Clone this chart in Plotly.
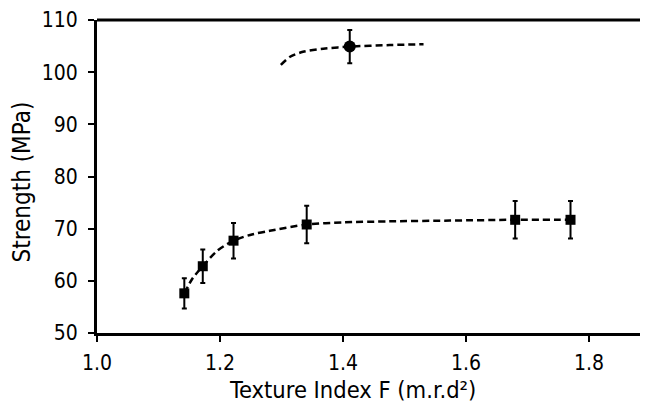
import plotly.graph_objects as go

# Measured data (squares)
sq_x = [1.142, 1.172, 1.222, 1.341, 1.680, 1.770]
sq_y = [57.6, 62.8, 67.7, 70.8, 71.7, 71.7]
sq_err = [2.9, 3.2, 3.4, 3.6, 3.6, 3.6]

# Measured data (circle)
ci_x = [1.411]
ci_y = [104.9]
ci_err = [3.2]

# Fitted curve (lower)
fit_lo_x = [1.142, 1.155, 1.172, 1.195, 1.222, 1.249, 1.281, 1.341, 1.40, 1.476, 1.574, 1.680, 1.770]
fit_lo_y = [57.6, 60.4, 62.8, 65.7, 67.7, 68.8, 69.6, 70.8, 71.2, 71.4, 71.55, 71.7, 71.7]

# Fitted curve (upper)
fit_hi_x = [1.299, 1.314, 1.335, 1.368, 1.411, 1.476, 1.531]
fit_hi_y = [101.4, 102.95, 103.9, 104.5, 104.9, 105.2, 105.35]

x_ticks = [1.0, 1.2, 1.4, 1.6, 1.8]
y_ticks = [50, 60, 70, 80, 90, 100, 110]

FONT = "DejaVu Sans Condensed, DejaVu Sans, sans-serif"

fig = go.Figure()
fig.add_trace(go.Scatter(x=fit_lo_x, y=fit_lo_y, mode="lines",
                         line=dict(color="black", width=2.5, dash="7px,4px", shape="spline", smoothing=0.8),
                         hoverinfo="skip", showlegend=False))
fig.add_trace(go.Scatter(x=fit_hi_x, y=fit_hi_y, mode="lines",
                         line=dict(color="black", width=2.5, dash="7px,4px", shape="spline", smoothing=0.8),
                         hoverinfo="skip", showlegend=False))
fig.add_trace(go.Scatter(x=sq_x, y=sq_y, mode="markers",
                         marker=dict(symbol="square", size=10, color="black"),
                         error_y=dict(type="data", array=sq_err, color="black", thickness=2, width=2.5),
                         showlegend=False))
fig.add_trace(go.Scatter(x=ci_x, y=ci_y, mode="markers",
                         marker=dict(symbol="circle", size=12, color="black"),
                         error_y=dict(type="data", array=ci_err, color="black", thickness=2, width=2.5),
                         showlegend=False))

# top frame line only
fig.add_shape(type="line", xref="paper", yref="paper", x0=0, x1=1, y0=1, y1=1,
              line=dict(color="black", width=3))

fig.add_annotation(text="Texture Index F (m.r.d²)", xref="paper", yref="paper",
                   x=0.47, y=-0.181, xanchor="center", yanchor="middle", showarrow=False,
                   font=dict(family=FONT, size=23.5, color="black"))
fig.add_annotation(text="Strength (MPa)", xref="paper", yref="paper", textangle=-90,
                   x=-0.138, y=0.481, xanchor="center", yanchor="middle", showarrow=False,
                   font=dict(family=FONT, size=24, color="black"))

fig.update_layout(
    width=632, height=396,
    margin=dict(l=89, r=0, t=10, b=71),
    paper_bgcolor="white", plot_bgcolor="white",
    font=dict(family=FONT, size=21, color="black"),
    xaxis=dict(range=[1.0, 1.883], tickvals=x_ticks, ticktext=[f"{v:.1f}" for v in x_ticks],
               showgrid=False, zeroline=False, showline=True, linecolor="black", linewidth=3,
               mirror=False, ticks="outside", ticklen=6, tickwidth=2, tickcolor="black",
               ticklabelstandoff=3, ticklabeloverflow="allow"),
    yaxis=dict(range=[50, 110], tickvals=y_ticks, showgrid=False, zeroline=False,
               showline=True, linecolor="black", linewidth=3, ticks="outside", ticklen=6,
               tickwidth=2, tickcolor="black", ticklabelstandoff=6, ticklabeloverflow="allow"),
)

fig.write_html("out.html")
